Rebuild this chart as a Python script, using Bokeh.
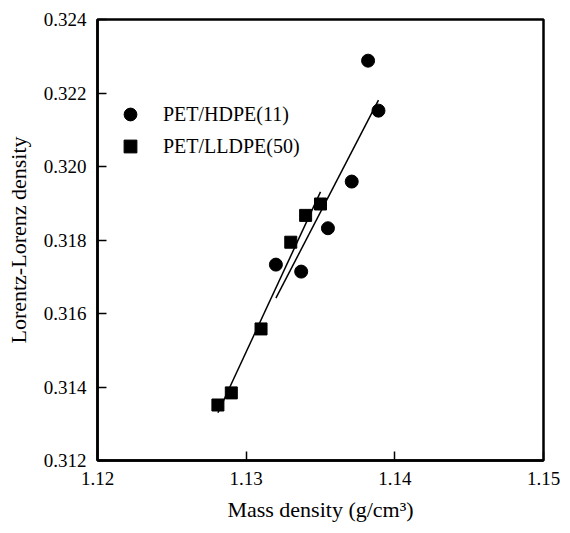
import numpy as np
from bokeh.plotting import figure
from bokeh.models import FixedTicker, PrintfTickFormatter, Legend, LegendItem
from bokeh.embed import file_html
from bokeh.resources import INLINE

# Data
hdpe_x = [1.1320, 1.1337, 1.1355, 1.1371, 1.1382, 1.1389]
hdpe_y = [0.31733, 0.31714, 0.31832, 0.31959, 0.32288, 0.32152]
lldpe_x = [1.1281, 1.1290, 1.1310, 1.1330, 1.1340, 1.1350]
lldpe_y = [0.31351, 0.31384, 0.31558, 0.31794, 0.31867, 0.31898]
x_ticks = [1.12, 1.13, 1.14, 1.15]
y_ticks = [0.312, 0.314, 0.316, 0.318, 0.320, 0.322, 0.324]
series_names = ["PET/HDPE(11)", "PET/LLDPE(50)"]

FONT = "Liberation Serif"

p = figure(width=570, height=533, x_range=(1.12, 1.15), y_range=(0.312, 0.324),
           output_backend="svg", toolbar_location=None,
           min_border_left=97, min_border_right=27, min_border_top=19, min_border_bottom=73)
p.background_fill_color = "white"
p.border_fill_color = "white"
p.xgrid.visible = False
p.ygrid.visible = False
p.outline_line_color = "black"
p.outline_line_width = 2.5

for ax in (p.xaxis[0], p.yaxis[0]):
    ax.axis_line_width = 2.5
    ax.axis_line_color = "black"
    ax.major_tick_in = 9
    ax.major_tick_out = 0
    ax.major_tick_line_width = 1.5
    ax.minor_tick_line_color = None
    ax.major_label_text_font = FONT
    ax.major_label_text_font_size = "19px"
    ax.major_label_text_color = "black"
    ax.axis_label_text_font = FONT
    ax.axis_label_text_font_size = "22px"
    ax.axis_label_text_font_style = "normal"
    ax.axis_label_text_color = "black"

p.xaxis.ticker = FixedTicker(ticks=x_ticks)
p.yaxis.ticker = FixedTicker(ticks=y_ticks)
p.xaxis.formatter = PrintfTickFormatter(format="%.2f")
p.yaxis.formatter = PrintfTickFormatter(format="%.3f")
p.xaxis.major_label_standoff = 11
p.yaxis.major_label_standoff = 11
p.xaxis.axis_label = "Mass density (g/cm\u00b3)"
p.yaxis.axis_label = "Lorentz-Lorenz density"
p.xaxis.axis_label_standoff = 9
p.yaxis.axis_label_standoff = 10

# least-squares fit lines over each series' range
def fit_line(xs, ys):
    k, b = np.polyfit(xs, ys, 1)
    xe = np.array([min(xs), max(xs)])
    return xe, k * xe + b

fx1, fy1 = fit_line(hdpe_x, hdpe_y)
fx2, fy2 = fit_line(lldpe_x, lldpe_y)
p.line(fx1, fy1, line_color="black", line_width=1.5)
p.line(fx2, fy2, line_color="black", line_width=1.5)

r1 = p.scatter(hdpe_x, hdpe_y, marker="circle", size=13, fill_color="black", line_color="black")
r2 = p.scatter(lldpe_x, lldpe_y, marker="square", size=12, fill_color="black", line_color="black")

legend = Legend(items=[LegendItem(label=series_names[0], renderers=[r1]),
                       LegendItem(label=series_names[1], renderers=[r2])],
                location=(17, 298))
legend.border_line_color = None
legend.background_fill_alpha = 0
legend.padding = 0
legend.margin = 0
legend.glyph_width = 32
legend.glyph_height = 32
legend.label_height = 32
legend.spacing = -8
legend.label_standoff = 17
legend.label_text_font = FONT
legend.label_text_font_size = "20px"
legend.label_text_color = "black"
p.add_layout(legend)

open("out.html", "w").write(file_html(p, INLINE))
